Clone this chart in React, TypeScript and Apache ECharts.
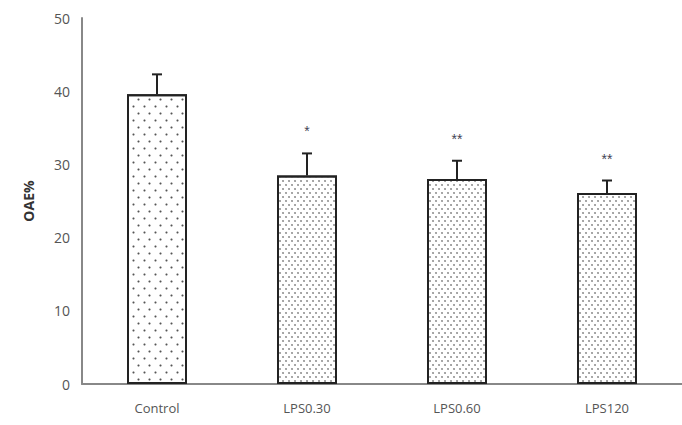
import React, { useEffect, useRef } from "react";
import * as echarts from "echarts";

const categories = ["Control", "LPS0.30", "LPS0.60", "LPS120"];
const means = [39.6, 28.5, 28.0, 26.1];
const errors = [2.7, 3.0, 2.5, 1.7];
const marks = ["", "*", "**", "**"];
const yTicks = [0, 10, 20, 30, 40, 50];

const sparseDecal = {
  symbol: "circle",
  symbolSize: 0.7,
  color: "#555",
  backgroundColor: "#fff",
  dashArrayX: [[3, 8], [0, 5, 3, 3]],
  dashArrayY: [3, 4],
  rotation: 0,
};
const denseDecal = {
  symbol: "circle",
  symbolSize: 0.8,
  color: "#777",
  backgroundColor: "#fff",
  dashArrayX: [[2, 4], [0, 3, 2, 1]],
  dashArrayY: [2, 2],
  rotation: 0,
};

export default function App() {
  const ref = useRef<HTMLDivElement>(null);
  useEffect(() => {
    if (!ref.current) return;
    const chart = echarts.init(ref.current, null, { renderer: "svg" });
    chart.setOption({
      animation: false,
      backgroundColor: "#fff",
      grid: { left: 82, right: -8, top: 18, bottom: 41, containLabel: false },
      xAxis: {
        type: "category",
        data: categories,
        axisLine: { lineStyle: { color: "#888", width: 2 } },
        axisTick: { show: false },
        axisLabel: { color: "#555", fontSize: 13, margin: 17, fontFamily: "Open Sans" },
      },
      yAxis: {
        type: "value",
        min: yTicks[0],
        max: yTicks[yTicks.length - 1],
        interval: 10,
        name: "OAE%",
        nameLocation: "middle",
        nameGap: 47,
        nameTextStyle: { fontWeight: "bold", fontSize: 14, color: "#333", fontFamily: "Open Sans" },
        axisLine: { show: true, lineStyle: { color: "#888", width: 2 } },
        axisTick: { show: false },
        splitLine: { show: false },
        axisLabel: { color: "#555", fontSize: 14, margin: 12, fontFamily: "Open Sans" },
      },
      series: [
        {
          type: "bar",
          barWidth: 60,
          data: means.map((v, i) => ({
            value: v,
            itemStyle: {
              color: "#fff",
              borderColor: "#222",
              borderWidth: 2,
              decal: i === 0 ? sparseDecal : denseDecal,
            },
          })),
          z: 2,
        },
        {
          type: "custom",
          z: 3,
          data: means.map((v, i) => [i, v, v + errors[i]]),
          renderItem: (params: any, api: any) => {
            const i = api.value(0);
            const base = api.coord([i, api.value(1)]);
            const top = api.coord([i, api.value(2)]);
            const mark = marks[params.dataIndex];
            const children: any[] = [
              {
                type: "line",
                shape: { x1: base[0], y1: base[1], x2: top[0], y2: top[1] },
                style: { stroke: "#222", lineWidth: 2 },
              },
              {
                type: "line",
                shape: { x1: top[0] - 5, y1: top[1], x2: top[0] + 5, y2: top[1] },
                style: { stroke: "#222", lineWidth: 2 },
              },
            ];
            if (mark) {
              children.push({
                type: "text",
                x: top[0],
                y: top[1] - 22,
                style: {
                  text: mark,
                  fill: "#445",
                  fontSize: 14,
                  align: "center",
                  verticalAlign: "middle",
                },
              });
            }
            return { type: "group", children };
          },
        },
      ],
    });
    return () => chart.dispose();
  }, []);
  return (
    <div
      ref={ref}
      style={{ position: "fixed", left: 0, top: 0, width: 682, height: 425 }}
    />
  );
}
